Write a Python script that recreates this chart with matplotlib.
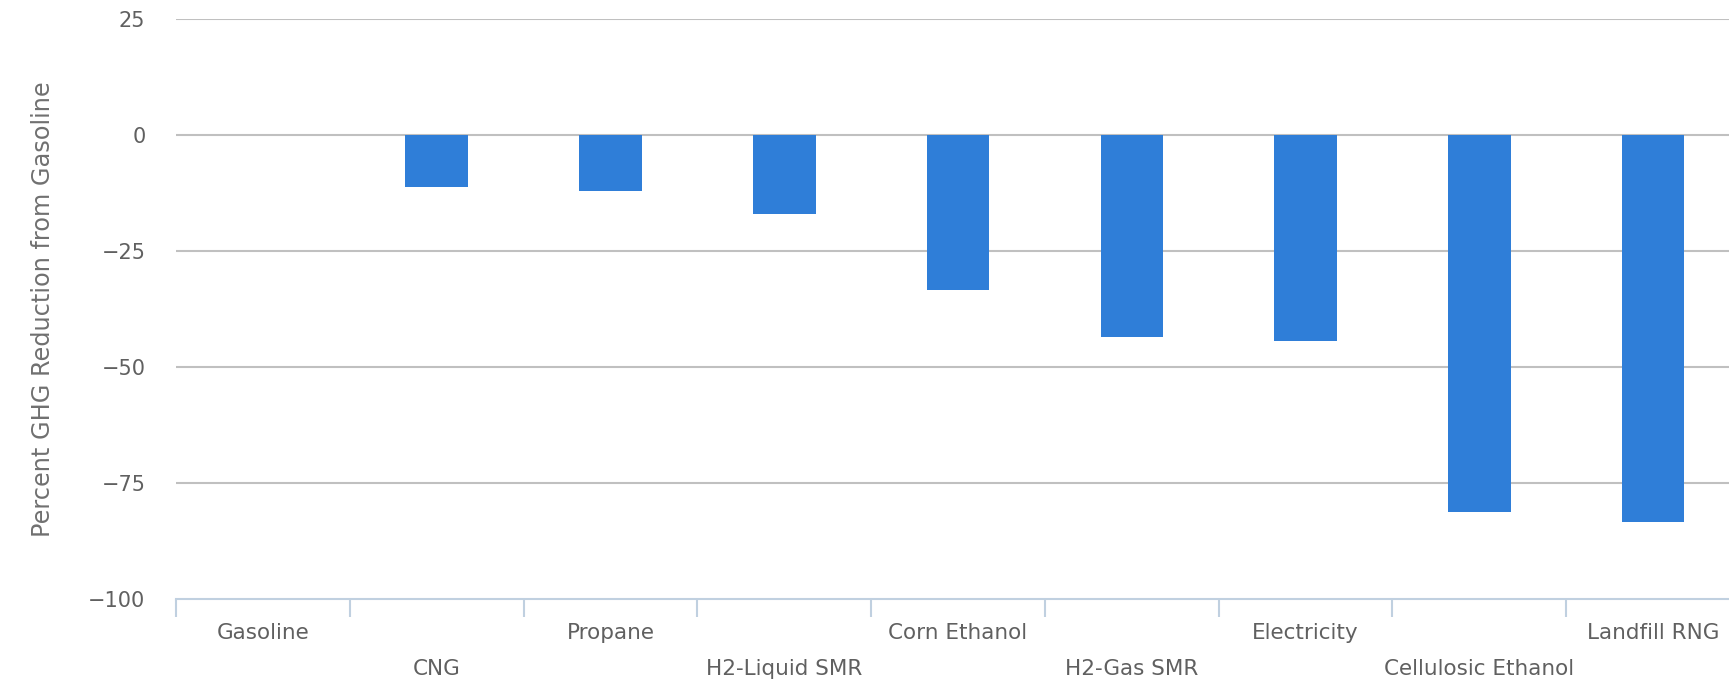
import matplotlib.pyplot as plt
import numpy as np

# fuels and their GHG change vs gasoline (percent)
fuels = ['Gasoline', 'CNG', 'Propane', 'H2-Liquid SMR', 'Corn Ethanol',
         'H2-Gas SMR', 'Electricity', 'Cellulosic Ethanol', 'Landfill RNG']
reduction = [0, -11.2, -12.1, -17.1, -33.4, -43.5, -44.4, -81.2, -83.5]
y_ticks = [25, 0, -25, -50, -75, -100]

bar_color = '#2f7ed8'
grid_color = '#c0c0c0'
axis_color = '#c0d0e0'
label_color = '#606060'

plt.rcParams['font.family'] = ['DejaVu Sans']

fig = plt.figure(figsize=(17.29, 6.82), dpi=100)
ax = fig.add_axes([0.1018, 0.1217, 0.9046, 0.8509])

x = np.arange(len(fuels))
ax.bar(x, reduction, width=0.36, color=bar_color, linewidth=0, zorder=3)

ax.set_xlim(-0.5, len(fuels) - 0.5)
ax.set_ylim(-100, 25)

# horizontal grid lines (not at the bottom, the x axis line sits there)
for v in y_ticks[:-1]:
    ax.axhline(v, color=grid_color, lw=1.5, zorder=1)

for s in ['top', 'right', 'left']:
    ax.spines[s].set_visible(False)
ax.spines['bottom'].set_color(axis_color)
ax.spines['bottom'].set_linewidth(1.5)

ax.set_yticks(y_ticks)
ax.set_yticklabels([str(v).replace('-', '\u2212') for v in y_ticks])
ax.tick_params(axis='y', length=0, pad=22, labelsize=15, labelcolor=label_color)

# labels in the middle of each category, ticks on the boundaries
ax.set_xticks(x)
ax.set_xticklabels(fuels)
ax.tick_params(axis='x', which='major', length=0, labelsize=15.5, labelcolor=label_color)
ax.set_xticks(np.arange(-0.5, len(fuels) - 0.5, 1), minor=True)
ax.tick_params(axis='x', which='minor', length=13, width=1.5, color=axis_color,
               direction='out')
for i, t in enumerate(ax.xaxis.get_major_ticks()):
    t.set_pad(17.5 if i % 2 == 0 else 43.5)

ax.set_ylabel('Percent GHG Reduction from Gasoline', fontsize=17.3,
              color='#707070', labelpad=24)

fig.savefig('out.png', dpi=100)
